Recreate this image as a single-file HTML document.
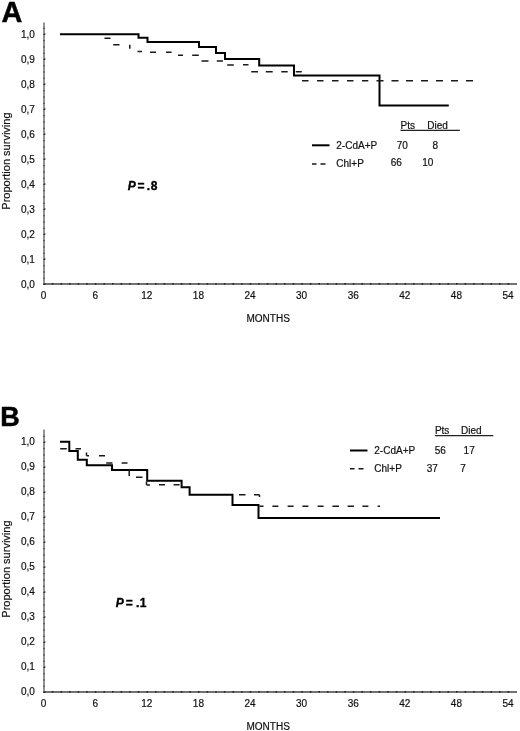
<!DOCTYPE html>
<html><head><meta charset="utf-8"><title>Survival curves</title>
<style>
html,body{margin:0;padding:0;background:#fff;}
body{width:520px;height:731px;overflow:hidden;}
svg{display:block;will-change:transform;}
.t{font-family:"Liberation Sans", sans-serif;font-size:10px;fill:#111;stroke:#111;stroke-width:0.2;}
.big{font-family:"Liberation Sans", sans-serif;font-size:27px;font-weight:bold;fill:#000;stroke:#000;stroke-width:0.5;}
.p{font-family:"Liberation Sans", sans-serif;font-size:12px;font-weight:bold;fill:#000;stroke:#000;stroke-width:0.35;}
.yax{stroke:#5a5a5a;stroke-width:1.3;}
.xax{stroke:#444;stroke-width:1.4;}
.solid{fill:none;stroke:#000;stroke-width:2;stroke-linejoin:miter;stroke-linecap:butt;}
.dash{fill:none;stroke:#1a1a1a;stroke-width:1.5;}
</style></head>
<body>
<svg width="520" height="731" viewBox="0 0 520 731">
<rect width="520" height="731" fill="#fff"/>
<text x="1.6" y="22.2" class="big" style="font-size:28.8px">A</text>
<line x1="44" y1="22.5" x2="44" y2="284.7" class="yax"/>
<line x1="43.3" y1="284" x2="517" y2="284" class="xax"/>
<path d="M43.4,283.9h1.2v1h-1.2z M43.4,277.65h1.2v1h-1.2z M43.4,271.4h1.2v1h-1.2z M43.4,265.15h1.2v1h-1.2z M43.4,258.9h1.2v1h-1.2z M43.4,252.65h1.2v1h-1.2z M43.4,246.4h1.2v1h-1.2z M43.4,240.15h1.2v1h-1.2z M43.4,233.9h1.2v1h-1.2z M43.4,227.65h1.2v1h-1.2z M43.4,221.4h1.2v1h-1.2z M43.4,215.15h1.2v1h-1.2z M43.4,208.9h1.2v1h-1.2z M43.4,202.65h1.2v1h-1.2z M43.4,196.4h1.2v1h-1.2z M43.4,190.15h1.2v1h-1.2z M43.4,183.9h1.2v1h-1.2z M43.4,177.65h1.2v1h-1.2z M43.4,171.4h1.2v1h-1.2z M43.4,165.15h1.2v1h-1.2z M43.4,158.9h1.2v1h-1.2z M43.4,152.65h1.2v1h-1.2z M43.4,146.4h1.2v1h-1.2z M43.4,140.15h1.2v1h-1.2z M43.4,133.9h1.2v1h-1.2z M43.4,127.65h1.2v1h-1.2z M43.4,121.4h1.2v1h-1.2z M43.4,115.15h1.2v1h-1.2z M43.4,108.9h1.2v1h-1.2z M43.4,102.65h1.2v1h-1.2z M43.4,96.4h1.2v1h-1.2z M43.4,90.15h1.2v1h-1.2z M43.4,83.9h1.2v1h-1.2z M43.4,77.65h1.2v1h-1.2z M43.4,71.4h1.2v1h-1.2z M43.4,65.15h1.2v1h-1.2z M43.4,58.9h1.2v1h-1.2z M43.4,52.65h1.2v1h-1.2z M43.4,46.4h1.2v1h-1.2z M43.4,40.15h1.2v1h-1.2z M43.4,33.9h1.2v1h-1.2z M43.4,27.65h1.2v1h-1.2z M44,283.5h1.6v1h-1.6z M44,258.5h1.6v1h-1.6z M44,233.5h1.6v1h-1.6z M44,208.5h1.6v1h-1.6z M44,183.5h1.6v1h-1.6z M44,158.5h1.6v1h-1.6z M44,133.5h1.6v1h-1.6z M44,108.5h1.6v1h-1.6z M44,83.5h1.6v1h-1.6z M44,58.5h1.6v1h-1.6z M44,33.5h1.6v1h-1.6z M51.8,283h1.6v1.5h-1.6z M60.4,283h1.6v1.5h-1.6z M69,283h1.6v1.5h-1.6z M77.6,283h1.6v1.5h-1.6z M86.2,283h1.6v1.5h-1.6z M94.8,283h1.6v1.5h-1.6z M103.4,283h1.6v1.5h-1.6z M112,283h1.6v1.5h-1.6z M120.6,283h1.6v1.5h-1.6z M129.2,283h1.6v1.5h-1.6z M137.8,283h1.6v1.5h-1.6z M146.4,283h1.6v1.5h-1.6z M155,283h1.6v1.5h-1.6z M163.6,283h1.6v1.5h-1.6z M172.2,283h1.6v1.5h-1.6z M180.8,283h1.6v1.5h-1.6z M189.4,283h1.6v1.5h-1.6z M198,283h1.6v1.5h-1.6z M206.6,283h1.6v1.5h-1.6z M215.2,283h1.6v1.5h-1.6z M223.8,283h1.6v1.5h-1.6z M232.4,283h1.6v1.5h-1.6z M241,283h1.6v1.5h-1.6z M249.6,283h1.6v1.5h-1.6z M258.2,283h1.6v1.5h-1.6z M266.8,283h1.6v1.5h-1.6z M275.4,283h1.6v1.5h-1.6z M284,283h1.6v1.5h-1.6z M292.6,283h1.6v1.5h-1.6z M301.2,283h1.6v1.5h-1.6z M309.8,283h1.6v1.5h-1.6z M318.4,283h1.6v1.5h-1.6z M327,283h1.6v1.5h-1.6z M335.6,283h1.6v1.5h-1.6z M344.2,283h1.6v1.5h-1.6z M352.8,283h1.6v1.5h-1.6z M361.4,283h1.6v1.5h-1.6z M370,283h1.6v1.5h-1.6z M378.6,283h1.6v1.5h-1.6z M387.2,283h1.6v1.5h-1.6z M395.8,283h1.6v1.5h-1.6z M404.4,283h1.6v1.5h-1.6z M413,283h1.6v1.5h-1.6z M421.6,283h1.6v1.5h-1.6z M430.2,283h1.6v1.5h-1.6z M438.8,283h1.6v1.5h-1.6z M447.4,283h1.6v1.5h-1.6z M456,283h1.6v1.5h-1.6z M464.6,283h1.6v1.5h-1.6z M473.2,283h1.6v1.5h-1.6z M481.8,283h1.6v1.5h-1.6z M490.4,283h1.6v1.5h-1.6z M499,283h1.6v1.5h-1.6z M507.6,283h1.6v1.5h-1.6z" fill="#222"/>
<text x="34.8" y="287.6" class="t" text-anchor="end">0,0</text>
<text x="34.8" y="262.6" class="t" text-anchor="end">0,1</text>
<text x="34.8" y="237.6" class="t" text-anchor="end">0,2</text>
<text x="34.8" y="212.6" class="t" text-anchor="end">0,3</text>
<text x="34.8" y="187.6" class="t" text-anchor="end">0,4</text>
<text x="34.8" y="162.6" class="t" text-anchor="end">0,5</text>
<text x="34.8" y="137.6" class="t" text-anchor="end">0,6</text>
<text x="34.8" y="112.6" class="t" text-anchor="end">0,7</text>
<text x="34.8" y="87.6" class="t" text-anchor="end">0,8</text>
<text x="34.8" y="62.6" class="t" text-anchor="end">0,9</text>
<text x="34.8" y="37.6" class="t" text-anchor="end">1,0</text>
<text x="43.6" y="299" class="t" text-anchor="middle">0</text>
<text x="95.2" y="299" class="t" text-anchor="middle">6</text>
<text x="146.8" y="299" class="t" text-anchor="middle">12</text>
<text x="198.4" y="299" class="t" text-anchor="middle">18</text>
<text x="250" y="299" class="t" text-anchor="middle">24</text>
<text x="301.6" y="299" class="t" text-anchor="middle">30</text>
<text x="353.2" y="299" class="t" text-anchor="middle">36</text>
<text x="404.8" y="299" class="t" text-anchor="middle">42</text>
<text x="456.4" y="299" class="t" text-anchor="middle">48</text>
<text x="508" y="299" class="t" text-anchor="middle">54</text>
<text x="268.2" y="321.8" class="t" text-anchor="middle">MONTHS</text>
<text transform="translate(10,161.1) rotate(-90)" class="t" style="font-size:11px" text-anchor="middle">Proportion surviving</text>
<path d="M60,34.2H138.5V37.8H147.5V42H199V47H216V53H225V59H259.2V65.5H294V75.6H379.5V105.6H448.8" class="solid"/>
<path d="M104.5,38.2H110.5 M113.2,44.8H119.5 M129.8,44.8V48.8 M137.5,51.5H142 M150,52.2H156 M166,52.2H171.6 M178,55.2H183 M192.2,55.2H198.8 M201.5,60.9H208.5 M216.8,60.9H223 M227.2,65H233.8 M243,64.8H248.5 M251.25,71.7H258 M265.8,71.7H272.7 M281.25,71.7H287.7 M295.8,71.7H301.8 M302,80.7H308.5 M317,80.8H323.5 M332,80.8H338.5 M347,80.8H353.5 M362,80.8H368.3 M376.5,80.8H383.5 M391.5,80.8H398.5 M406,80.8H413 M421,80.8H428 M436,80.8H443 M451,80.8H458 M466,80.8H473" class="dash"/>
<text y="190" class="p"><tspan x="127.8" font-style="italic">P</tspan><tspan x="137.6">=</tspan><tspan x="146.8">.</tspan><tspan x="150.8">8</tspan></text>
<path d="M312,145.3h17.5" class="solid"/>
<path d="M312,164.1h4.5M320.5,164.1h5" class="dash"/>
<text x="336.3" y="149" class="t">2-CdA+P</text>
<text x="336.3" y="166.7" class="t">Chl+P</text>
<text x="400.5" y="128.8" class="t">Pts</text>
<text x="427.3" y="128.8" class="t">Died</text>
<path d="M400.5,130.3H459.8" stroke="#222" stroke-width="1.3"/>
<text x="396.8" y="148.7" class="t">70</text>
<text x="432.4" y="148.7" class="t">8</text>
<text x="390.8" y="166.3" class="t">66</text>
<text x="422.3" y="166.3" class="t">10</text>
<text x="0.2" y="425.5" class="big" style="font-size:27px">B</text>
<line x1="44" y1="429.5" x2="44" y2="692.7" class="yax"/>
<line x1="43.3" y1="692" x2="517" y2="692" class="xax"/>
<path d="M43.4,691.9h1.2v1h-1.2z M43.4,685.65h1.2v1h-1.2z M43.4,679.4h1.2v1h-1.2z M43.4,673.15h1.2v1h-1.2z M43.4,666.9h1.2v1h-1.2z M43.4,660.65h1.2v1h-1.2z M43.4,654.4h1.2v1h-1.2z M43.4,648.15h1.2v1h-1.2z M43.4,641.9h1.2v1h-1.2z M43.4,635.65h1.2v1h-1.2z M43.4,629.4h1.2v1h-1.2z M43.4,623.15h1.2v1h-1.2z M43.4,616.9h1.2v1h-1.2z M43.4,610.65h1.2v1h-1.2z M43.4,604.4h1.2v1h-1.2z M43.4,598.15h1.2v1h-1.2z M43.4,591.9h1.2v1h-1.2z M43.4,585.65h1.2v1h-1.2z M43.4,579.4h1.2v1h-1.2z M43.4,573.15h1.2v1h-1.2z M43.4,566.9h1.2v1h-1.2z M43.4,560.65h1.2v1h-1.2z M43.4,554.4h1.2v1h-1.2z M43.4,548.15h1.2v1h-1.2z M43.4,541.9h1.2v1h-1.2z M43.4,535.65h1.2v1h-1.2z M43.4,529.4h1.2v1h-1.2z M43.4,523.15h1.2v1h-1.2z M43.4,516.9h1.2v1h-1.2z M43.4,510.65h1.2v1h-1.2z M43.4,504.4h1.2v1h-1.2z M43.4,498.15h1.2v1h-1.2z M43.4,491.9h1.2v1h-1.2z M43.4,485.65h1.2v1h-1.2z M43.4,479.4h1.2v1h-1.2z M43.4,473.15h1.2v1h-1.2z M43.4,466.9h1.2v1h-1.2z M43.4,460.65h1.2v1h-1.2z M43.4,454.4h1.2v1h-1.2z M43.4,448.15h1.2v1h-1.2z M43.4,441.9h1.2v1h-1.2z M43.4,435.65h1.2v1h-1.2z M44,691.5h1.6v1h-1.6z M44,666.5h1.6v1h-1.6z M44,641.5h1.6v1h-1.6z M44,616.5h1.6v1h-1.6z M44,591.5h1.6v1h-1.6z M44,566.5h1.6v1h-1.6z M44,541.5h1.6v1h-1.6z M44,516.5h1.6v1h-1.6z M44,491.5h1.6v1h-1.6z M44,466.5h1.6v1h-1.6z M44,441.5h1.6v1h-1.6z M51.8,691h1.6v1.5h-1.6z M60.4,691h1.6v1.5h-1.6z M69,691h1.6v1.5h-1.6z M77.6,691h1.6v1.5h-1.6z M86.2,691h1.6v1.5h-1.6z M94.8,691h1.6v1.5h-1.6z M103.4,691h1.6v1.5h-1.6z M112,691h1.6v1.5h-1.6z M120.6,691h1.6v1.5h-1.6z M129.2,691h1.6v1.5h-1.6z M137.8,691h1.6v1.5h-1.6z M146.4,691h1.6v1.5h-1.6z M155,691h1.6v1.5h-1.6z M163.6,691h1.6v1.5h-1.6z M172.2,691h1.6v1.5h-1.6z M180.8,691h1.6v1.5h-1.6z M189.4,691h1.6v1.5h-1.6z M198,691h1.6v1.5h-1.6z M206.6,691h1.6v1.5h-1.6z M215.2,691h1.6v1.5h-1.6z M223.8,691h1.6v1.5h-1.6z M232.4,691h1.6v1.5h-1.6z M241,691h1.6v1.5h-1.6z M249.6,691h1.6v1.5h-1.6z M258.2,691h1.6v1.5h-1.6z M266.8,691h1.6v1.5h-1.6z M275.4,691h1.6v1.5h-1.6z M284,691h1.6v1.5h-1.6z M292.6,691h1.6v1.5h-1.6z M301.2,691h1.6v1.5h-1.6z M309.8,691h1.6v1.5h-1.6z M318.4,691h1.6v1.5h-1.6z M327,691h1.6v1.5h-1.6z M335.6,691h1.6v1.5h-1.6z M344.2,691h1.6v1.5h-1.6z M352.8,691h1.6v1.5h-1.6z M361.4,691h1.6v1.5h-1.6z M370,691h1.6v1.5h-1.6z M378.6,691h1.6v1.5h-1.6z M387.2,691h1.6v1.5h-1.6z M395.8,691h1.6v1.5h-1.6z M404.4,691h1.6v1.5h-1.6z M413,691h1.6v1.5h-1.6z M421.6,691h1.6v1.5h-1.6z M430.2,691h1.6v1.5h-1.6z M438.8,691h1.6v1.5h-1.6z M447.4,691h1.6v1.5h-1.6z M456,691h1.6v1.5h-1.6z M464.6,691h1.6v1.5h-1.6z M473.2,691h1.6v1.5h-1.6z M481.8,691h1.6v1.5h-1.6z M490.4,691h1.6v1.5h-1.6z M499,691h1.6v1.5h-1.6z M507.6,691h1.6v1.5h-1.6z" fill="#222"/>
<text x="34.8" y="695" class="t" text-anchor="end">0,0</text>
<text x="34.8" y="670" class="t" text-anchor="end">0,1</text>
<text x="34.8" y="645" class="t" text-anchor="end">0,2</text>
<text x="34.8" y="620" class="t" text-anchor="end">0,3</text>
<text x="34.8" y="595" class="t" text-anchor="end">0,4</text>
<text x="34.8" y="570" class="t" text-anchor="end">0,5</text>
<text x="34.8" y="545" class="t" text-anchor="end">0,6</text>
<text x="34.8" y="520" class="t" text-anchor="end">0,7</text>
<text x="34.8" y="495" class="t" text-anchor="end">0,8</text>
<text x="34.8" y="470" class="t" text-anchor="end">0,9</text>
<text x="34.8" y="445" class="t" text-anchor="end">1,0</text>
<text x="43.6" y="707.4" class="t" text-anchor="middle">0</text>
<text x="95.2" y="707.4" class="t" text-anchor="middle">6</text>
<text x="146.8" y="707.4" class="t" text-anchor="middle">12</text>
<text x="198.4" y="707.4" class="t" text-anchor="middle">18</text>
<text x="250" y="707.4" class="t" text-anchor="middle">24</text>
<text x="301.6" y="707.4" class="t" text-anchor="middle">30</text>
<text x="353.2" y="707.4" class="t" text-anchor="middle">36</text>
<text x="404.8" y="707.4" class="t" text-anchor="middle">42</text>
<text x="456.4" y="707.4" class="t" text-anchor="middle">48</text>
<text x="508" y="707.4" class="t" text-anchor="middle">54</text>
<text x="268.2" y="729.8" class="t" text-anchor="middle">MONTHS</text>
<text transform="translate(10,569.1) rotate(-90)" class="t" style="font-size:11px" text-anchor="middle">Proportion surviving</text>
<path d="M60,441.8H69.3V451H77.8V459.7H86.8V465.2H112V470H147.2V480.8H181.6V487.2H189.6V494.8H232.5V505H258.5V518.1H440" class="solid"/>
<path d="M60.2,448.8H66.8 M75.5,448.8H81 M86.5,452.5V455.8 M86.5,455.8H89 M99,455.8H105 M106.25,462.9H112.5 M121.6,462.9H127.5 M129.2,470V476 M136,477.3H142.5 M146.5,481.5V485 M146.5,485H150 M159,484.8H165 M173.6,484.8H179.6 M239,494.8H245.5 M254,494.8H259.5 M259.5,494.8V497 M259.5,506.2H263.5 M272.4,506.2H278.4 M287.6,506.2H293.6 M302.4,506.2H308.4 M317.6,506.2H323.6 M332.4,506.2H339 M347.6,506.2H354 M362.4,506.2H368.4 M377.6,506.2H380" class="dash"/>
<text y="606.5" class="p"><tspan x="115.8" font-style="italic">P</tspan><tspan x="125.7">=</tspan><tspan x="136">.</tspan><tspan x="139.7">1</tspan></text>
<path d="M350,450.5h17.5" class="solid"/>
<path d="M350,468.7h4.5M358.5,468.7h5" class="dash"/>
<text x="374.3" y="454.3" class="t">2-CdA+P</text>
<text x="374.3" y="472" class="t">Chl+P</text>
<text x="434.9" y="434.3" class="t">Pts</text>
<text x="461.1" y="434.3" class="t">Died</text>
<path d="M434.9,435.7H493.3" stroke="#222" stroke-width="1.3"/>
<text x="434.8" y="454" class="t">56</text>
<text x="463.6" y="454" class="t">17</text>
<text x="426.8" y="472" class="t">37</text>
<text x="460.3" y="472" class="t">7</text>
</svg>
</body></html>
